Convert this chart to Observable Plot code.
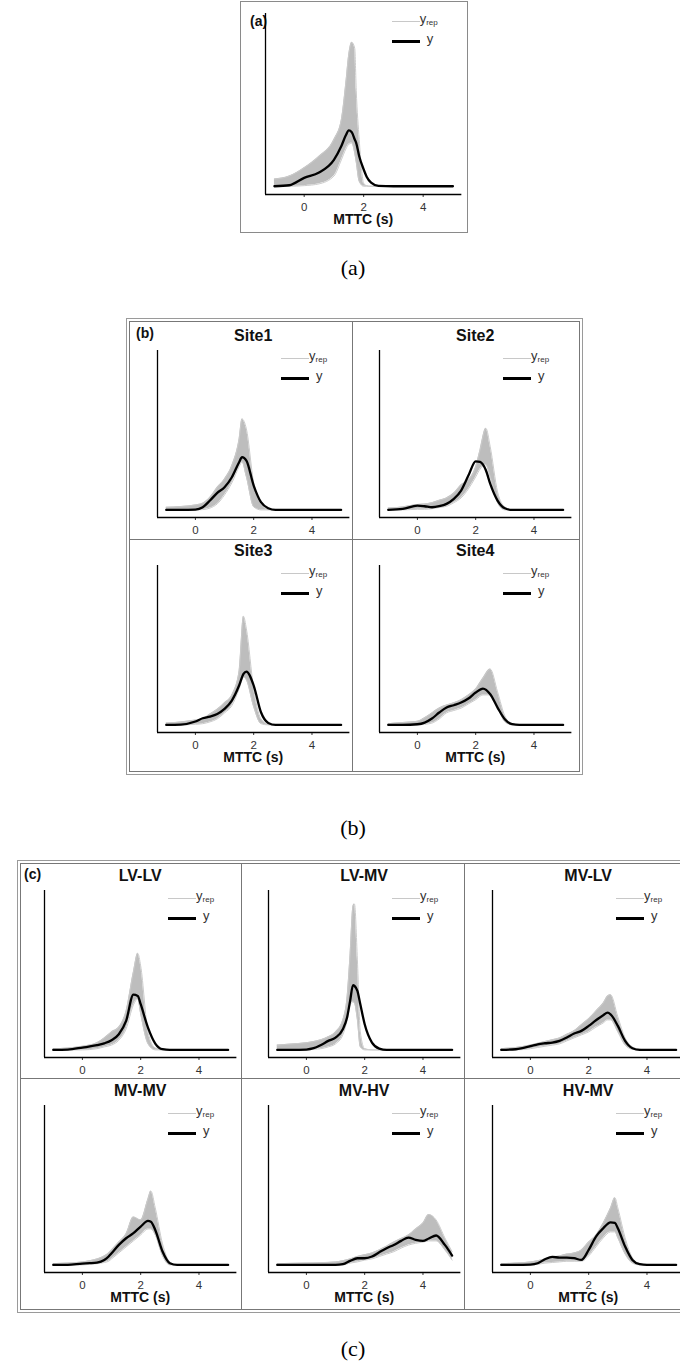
<!DOCTYPE html>
<html>
<head>
<meta charset="utf-8">
<script src="https://cdn.jsdelivr.net/npm/d3@7"></script>
<script src="https://cdn.jsdelivr.net/npm/@observablehq/plot@0.6"></script>
<style>
  body { margin: 0; background: #fff; font-family: "Liberation Sans", Arial, sans-serif; }
  #page { position: relative; width: 680px; height: 1362px; overflow: hidden; background: #fff; }
  .abs { position: absolute; }
  .frame { position: absolute; box-sizing: border-box; border: 1px solid #8a8a8a; }
  .title { position: absolute; font-weight: bold; font-size: 16px; color: #111; transform: translate(-50%, -50%); white-space: nowrap; }
  .xlab { position: absolute; font-weight: bold; font-size: 14px; color: #111; transform: translate(-50%, -50%); white-space: nowrap; }
  .tag { position: absolute; font-weight: bold; font-size: 14px; color: #111; transform: translateY(-50%); white-space: nowrap; }
  .cap { position: absolute; font-family: "Liberation Serif", "Times New Roman", serif; font-size: 22px; color: #000; transform: translate(-50%, -50%); white-space: nowrap; }
  .leg { position: absolute; font-size: 13px; line-height: 14px; color: #333; white-space: nowrap; }
  .leg sub { font-size: 8px; vertical-align: -2px; }
</style>
</head>
<body>
<div id="page"></div>
<script>
// ---------------- data (densities) ----------------
// panel (a): all data
const a_x      = [-1, -0.5, 0, 0.5, 1, 1.25, 1.4, 1.5, 1.6, 1.7, 1.75, 1.85, 2, 2.1, 2.25, 2.5, 3, 4, 5];
const a_y      = [0, 0.017, 0.14, 0.23, 0.44, 0.67, 0.85, 0.93, 0.9, 0.78, 0.72, 0.5, 0.28, 0.16, 0.06, 0.005, 0, 0, 0];
const a_repHi  = [0.12, 0.17, 0.31, 0.5, 0.78, 1.11, 1.72, 2.2, 2.4, 2.3, 1.6, 0.78, 0.05, 0.01, 0, 0, 0, 0, 0];
const a_repLo  = [0, 0, 0.01, 0.04, 0.17, 0.44, 0.62, 0.7, 0.72, 0.55, 0.4, 0.08, 0, 0, 0, 0, 0, 0, 0];

// panel (b): sites
const site1_x     = [-1, -0.5, 0, 0.25, 0.5, 0.75, 1, 1.25, 1.5, 1.6, 1.75, 2, 2.25, 2.5, 2.75, 3, 4, 5];
const site1_y     = [0, 0, 0.006, 0.044, 0.156, 0.283, 0.378, 0.544, 0.794, 0.878, 0.822, 0.406, 0.128, 0.028, 0, 0, 0, 0];
const site1_repHi = [0.044, 0.056, 0.083, 0.111, 0.211, 0.378, 0.517, 0.739, 1.183, 1.517, 1.35, 0.45, 0.1, 0.01, 0, 0, 0, 0];
const site1_repLo = [0, 0, 0, 0.005, 0.03, 0.1, 0.25, 0.45, 0.72, 0.8, 0.55, 0.05, 0, 0, 0, 0, 0, 0];

const site2_x     = [-1, -0.5, 0, 0.25, 0.5, 0.75, 1, 1.25, 1.5, 1.75, 2, 2.15, 2.35, 2.5, 2.75, 3, 3.25, 4, 5];
const site2_y     = [0, 0.017, 0.072, 0.061, 0.044, 0.061, 0.1, 0.183, 0.322, 0.572, 0.81, 0.8, 0.66, 0.433, 0.156, 0.028, 0, 0, 0];
const site2_repHi = [0.03, 0.05, 0.09, 0.1, 0.12, 0.16, 0.2, 0.28, 0.42, 0.5, 0.72, 1.0, 1.36, 1.05, 0.3, 0.05, 0, 0, 0];
const site2_repLo = [0, 0, 0.01, 0.01, 0.02, 0.04, 0.06, 0.12, 0.2, 0.35, 0.55, 0.68, 0.75, 0.55, 0.12, 0, 0, 0, 0];

const site3_x     = [-1, -0.5, 0, 0.25, 0.5, 0.75, 1, 1.25, 1.5, 1.65, 1.75, 2, 2.25, 2.5, 2.75, 3, 4, 5];
const site3_y     = [0, 0.006, 0.056, 0.111, 0.139, 0.183, 0.267, 0.406, 0.656, 0.85, 0.889, 0.656, 0.211, 0.033, 0, 0, 0, 0];
const site3_repHi = [0.03, 0.05, 0.08, 0.1, 0.18, 0.26, 0.37, 0.5, 0.9, 1.81, 1.6, 0.6, 0.1, 0.01, 0, 0, 0, 0];
const site3_repLo = [0, 0, 0.01, 0.02, 0.05, 0.1, 0.2, 0.32, 0.6, 0.8, 0.75, 0.3, 0.02, 0, 0, 0, 0, 0];

const site4_x     = [-1, -0.5, 0, 0.25, 0.5, 0.75, 1, 1.25, 1.5, 1.75, 2, 2.25, 2.5, 2.75, 3, 3.25, 3.5, 4, 5];
const site4_y     = [0, 0, 0.011, 0.039, 0.106, 0.206, 0.289, 0.328, 0.372, 0.439, 0.539, 0.606, 0.511, 0.289, 0.094, 0.011, 0, 0, 0];
const site4_repHi = [0.02, 0.04, 0.06, 0.12, 0.2, 0.28, 0.33, 0.37, 0.42, 0.5, 0.6, 0.78, 0.93, 0.55, 0.15, 0.02, 0, 0, 0];
const site4_repLo = [0, 0, 0, 0.01, 0.03, 0.1, 0.2, 0.24, 0.28, 0.35, 0.42, 0.5, 0.5, 0.3, 0.05, 0, 0, 0, 0];

// panel (c): vehicle pairs
const lvlv_x     = [-1, -0.5, 0, 0.5, 0.75, 1, 1.25, 1.5, 1.75, 1.9, 2, 2.25, 2.5, 2.75, 3, 4, 5];
const lvlv_y     = [0, 0.006, 0.039, 0.078, 0.11, 0.161, 0.261, 0.483, 0.92, 0.9, 0.761, 0.372, 0.106, 0.011, 0, 0, 0];
const lvlv_repHi = [0.02, 0.03, 0.06, 0.12, 0.2, 0.3, 0.38, 0.65, 1.3, 1.61, 1.4, 0.3, 0.03, 0, 0, 0, 0];
const lvlv_repLo = [0, 0, 0, 0.02, 0.05, 0.08, 0.16, 0.35, 0.75, 0.85, 0.6, 0.1, 0, 0, 0, 0, 0];

const lvmv_x     = [-1, -0.5, 0, 0.25, 0.5, 0.75, 1, 1.25, 1.4, 1.5, 1.6, 1.65, 1.75, 1.85, 2, 2.25, 2.5, 2.75, 3, 4, 5];
const lvmv_y     = [0, 0, 0.006, 0.028, 0.083, 0.15, 0.206, 0.344, 0.55, 0.817, 1.08, 1.067, 0.983, 0.76, 0.428, 0.122, 0.022, 0, 0, 0, 0];
const lvmv_repHi = [0.08, 0.1, 0.12, 0.14, 0.17, 0.22, 0.3, 0.5, 0.9, 1.6, 2.4, 2.43, 1.5, 0.3, 0.02, 0, 0, 0, 0, 0, 0];
const lvmv_repLo = [0, 0, 0, 0.01, 0.02, 0.05, 0.1, 0.25, 0.5, 0.75, 0.8, 0.78, 0.5, 0.05, 0, 0, 0, 0, 0, 0, 0];

const mvlv_x     = [-1, -0.5, 0, 0.25, 0.5, 0.75, 1, 1.25, 1.5, 1.75, 2, 2.25, 2.5, 2.65, 2.75, 3, 3.25, 3.5, 3.75, 4, 5];
const mvlv_y     = [0, 0.011, 0.061, 0.094, 0.111, 0.122, 0.15, 0.206, 0.272, 0.317, 0.4, 0.494, 0.578, 0.622, 0.594, 0.4, 0.15, 0.028, 0, 0, 0];
const mvlv_repHi = [0.02, 0.04, 0.08, 0.11, 0.14, 0.17, 0.2, 0.26, 0.32, 0.42, 0.52, 0.65, 0.78, 0.9, 0.92, 0.55, 0.2, 0.05, 0.01, 0, 0];
const mvlv_repLo = [0, 0, 0.02, 0.04, 0.06, 0.08, 0.1, 0.15, 0.2, 0.25, 0.3, 0.38, 0.45, 0.5, 0.5, 0.3, 0.08, 0.01, 0, 0, 0];

const mvmv_x     = [-1, -0.5, 0, 0.25, 0.5, 0.75, 0.9, 1, 1.25, 1.5, 1.75, 2, 2.25, 2.35, 2.5, 2.75, 3, 3.25, 4, 5];
const mvmv_y     = [0, 0, 0.022, 0.028, 0.039, 0.083, 0.14, 0.194, 0.333, 0.444, 0.528, 0.639, 0.733, 0.72, 0.583, 0.222, 0.028, 0, 0, 0];
const mvmv_repHi = [0.02, 0.03, 0.05, 0.07, 0.1, 0.15, 0.2, 0.25, 0.38, 0.52, 0.8, 0.75, 1.1, 1.23, 0.95, 0.35, 0.05, 0, 0, 0];
const mvmv_repLo = [0, 0, 0, 0.01, 0.02, 0.04, 0.06, 0.1, 0.2, 0.3, 0.4, 0.5, 0.6, 0.6, 0.5, 0.15, 0, 0, 0, 0];

const mvhv_x     = [-1, 0, 1, 1.25, 1.5, 1.75, 2, 2.25, 2.5, 2.75, 3, 3.25, 3.5, 3.75, 4, 4.2, 4.45, 4.75, 5];
const mvhv_y     = [0, 0, 0, 0.011, 0.067, 0.111, 0.111, 0.139, 0.211, 0.278, 0.333, 0.4, 0.456, 0.417, 0.4, 0.44, 0.49, 0.333, 0.156];
const mvhv_repHi = [0.02, 0.03, 0.05, 0.07, 0.1, 0.14, 0.17, 0.2, 0.25, 0.31, 0.38, 0.44, 0.5, 0.6, 0.7, 0.84, 0.75, 0.45, 0.22];
const mvhv_repLo = [0, 0, 0, 0, 0.03, 0.05, 0.08, 0.1, 0.14, 0.18, 0.22, 0.28, 0.33, 0.36, 0.38, 0.4, 0.4, 0.25, 0.08];

const hvmv_x     = [-1, -0.5, 0, 0.25, 0.5, 0.75, 1, 1.25, 1.5, 1.75, 2, 2.25, 2.5, 2.75, 2.9, 3, 3.25, 3.5, 3.75, 4, 5];
const hvmv_y     = [0, 0, 0.006, 0.028, 0.094, 0.133, 0.122, 0.122, 0.111, 0.083, 0.25, 0.472, 0.611, 0.71, 0.7, 0.611, 0.306, 0.083, 0.011, 0, 0];
const hvmv_repHi = [0.02, 0.03, 0.05, 0.07, 0.1, 0.13, 0.15, 0.18, 0.2, 0.25, 0.38, 0.5, 0.7, 0.95, 1.12, 0.95, 0.45, 0.12, 0.02, 0, 0];
const hvmv_repLo = [0, 0, 0, 0.01, 0.03, 0.04, 0.05, 0.06, 0.06, 0.06, 0.15, 0.3, 0.45, 0.55, 0.55, 0.45, 0.18, 0.03, 0, 0, 0];

const xTicks = [0, 2, 4];
const xLabel = "MTTC (s)";

// ---------------- layout ----------------
const page = document.getElementById("page");
function el(cls, styles, html) {
  const d = document.createElement("div");
  d.className = cls;
  Object.assign(d.style, styles);
  if (html != null) d.innerHTML = html;
  page.appendChild(d);
  return d;
}

const cells = [
  {x: a_x, y: a_y, hi: a_repHi, lo: a_repLo, title: null, axisX: 265, axisTop: 13, axisH: 181, ppu: 29.75, xlab: true},
  {x: site1_x, y: site1_y, hi: site1_repHi, lo: site1_repLo, title: "Site1", axisX: 157, axisTop: 350, axisH: 167, ppu: 29.15, xlab: false},
  {x: site2_x, y: site2_y, hi: site2_repHi, lo: site2_repLo, title: "Site2", axisX: 379, axisTop: 350, axisH: 167, ppu: 29.15, xlab: false},
  {x: site3_x, y: site3_y, hi: site3_repHi, lo: site3_repLo, title: "Site3", axisX: 157, axisTop: 565, axisH: 167, ppu: 29.15, xlab: true},
  {x: site4_x, y: site4_y, hi: site4_repHi, lo: site4_repLo, title: "Site4", axisX: 379, axisTop: 565, axisH: 167, ppu: 29.15, xlab: true},
  {x: lvlv_x, y: lvlv_y, hi: lvlv_repHi, lo: lvlv_repLo, title: "LV-LV", axisX: 44, axisTop: 890, axisH: 167, ppu: 29.15, xlab: false},
  {x: lvmv_x, y: lvmv_y, hi: lvmv_repHi, lo: lvmv_repLo, title: "LV-MV", axisX: 268, axisTop: 890, axisH: 167, ppu: 29.15, xlab: false},
  {x: mvlv_x, y: mvlv_y, hi: mvlv_repHi, lo: mvlv_repLo, title: "MV-LV", axisX: 492, axisTop: 890, axisH: 167, ppu: 29.15, xlab: false},
  {x: mvmv_x, y: mvmv_y, hi: mvmv_repHi, lo: mvmv_repLo, title: "MV-MV", axisX: 44, axisTop: 1105, axisH: 167, ppu: 29.15, xlab: true},
  {x: mvhv_x, y: mvhv_y, hi: mvhv_repHi, lo: mvhv_repLo, title: "MV-HV", axisX: 268, axisTop: 1105, axisH: 167, ppu: 29.15, xlab: true},
  {x: hvmv_x, y: hvmv_y, hi: hvmv_repHi, lo: hvmv_repLo, title: "HV-MV", axisX: 492, axisTop: 1105, axisH: 167, ppu: 29.15, xlab: true}
];

// frames
el("frame", {left: "240px", top: "1px", width: "228px", height: "232px"});
// (b) double frame + dividers
el("frame", {left: "126px", top: "318px", width: "457px", height: "457px", borderColor: "#9a9a9a"});
el("frame", {left: "129px", top: "321px", width: "451px", height: "451px", borderColor: "#777"});
el("abs", {left: "352px", top: "321px", width: "1px", height: "451px", background: "#777"});
el("abs", {left: "129px", top: "539px", width: "451px", height: "1px", background: "#777"});
// (c) double frame + dividers
el("frame", {left: "17px", top: "860px", width: "700px", height: "453px", borderColor: "#9a9a9a"});
el("frame", {left: "20px", top: "863px", width: "700px", height: "447px", borderColor: "#777"});
el("abs", {left: "241px", top: "863px", width: "1px", height: "447px", background: "#777"});
el("abs", {left: "464px", top: "863px", width: "1px", height: "447px", background: "#777"});
el("abs", {left: "20px", top: "1078px", width: "700px", height: "1px", background: "#777"});

// panel tags and captions
el("tag", {left: "250px", top: "21px"}, "(a)");
el("tag", {left: "136px", top: "333px"}, "(b)");
el("tag", {left: "24px", top: "874px"}, "(c)");
el("cap", {left: "353px", top: "268px"}, "(a)");
el("cap", {left: "353px", top: "828px"}, "(b)");
el("cap", {left: "353px", top: "1349px"}, "(c)");

const mL = 12, mR = 6, mT = 2, mB = 24;
for (const c of cells) {
  const pw = 6.6 * c.ppu;
  const W = mL + pw + mR, H = mT + c.axisH + mB;
  const T = c.axisH / 1.1 / 60;
  const yMin = -0.05 * T;
  const rows = c.x.map((x, i) => ({x, obs: c.y[i], lo: c.lo[i], hi: c.hi[i]}));
  const svg = Plot.plot({
    width: W, height: H,
    marginLeft: mL, marginRight: mR, marginTop: mT, marginBottom: mB,
    style: {background: "transparent", fontFamily: "Liberation Sans, Arial, sans-serif", fontSize: "11.5px", color: "#333333", overflow: "visible"},
    x: {domain: [-1.3, 5.3], ticks: xTicks, tickSize: 3, tickPadding: 5, label: null, tickFormat: d => String(d)},
    y: {domain: [yMin, 1.05 * T], axis: null},
    marks: [
      Plot.areaY(rows, {x: "x", y1: "lo", y2: "hi", fill: "#bdbdbd", curve: "monotone-x"}),
      Plot.line(rows, {x: "x", y: "hi", stroke: "#cbcbcb", strokeWidth: 1, curve: "monotone-x"}),
      Plot.line(rows, {x: "x", y: "lo", stroke: "#cbcbcb", strokeWidth: 1, curve: "monotone-x"}),
      Plot.line(rows, {x: "x", y: "obs", stroke: "#000", strokeWidth: 2.3, curve: "monotone-x"}),
      Plot.ruleX([-1.3], {stroke: "#000", strokeWidth: 1.3}),
      Plot.ruleY([yMin], {stroke: "#000", strokeWidth: 1.3})
    ]
  });
  const holder = el("abs", {left: (c.axisX - mL) + "px", top: (c.axisTop - mT) + "px", width: W + "px", height: H + "px"});
  holder.appendChild(svg);

  const cx = c.axisX + pw / 2;
  if (c.title) el("title", {left: cx + "px", top: (c.axisTop - 14) + "px"}, c.title);
  if (c.xlab) el("xlab", {left: cx + "px", top: (c.axisTop + c.axisH + 25) + "px"}, xLabel);

  // legend
  const lx = c.axisX + 0.645 * pw, ly1 = c.axisTop + 8, ly2 = c.axisTop + 28;
  el("abs", {left: lx + "px", top: (ly1 - 0.5) + "px", width: "28px", height: "1px", background: "#c8c8c8"});
  el("leg", {left: (lx + 28) + "px", top: (ly1 - 9) + "px"}, "y<sub>rep</sub>");
  el("abs", {left: lx + "px", top: (ly2 - 1.5) + "px", width: "28px", height: "3px", background: "#000"});
  el("leg", {left: (lx + 35) + "px", top: (ly2 - 9) + "px"}, "y");
}
</script>
</body>
</html>
